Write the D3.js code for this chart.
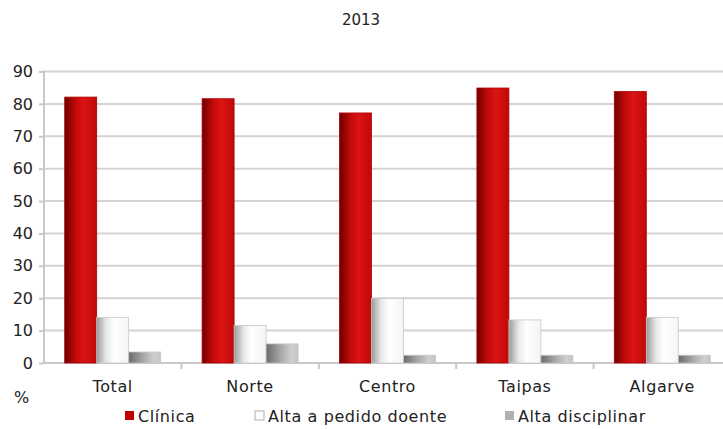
<!DOCTYPE html>
<html><head><meta charset="utf-8">
<script src="https://cdn.jsdelivr.net/npm/d3@7"></script>
<style>body{margin:0;background:#fff}svg{display:block}text{font-family:"DejaVu Sans",sans-serif;fill:#222}</style>
</head><body><svg id="c" width="723" height="429"></svg>
<script>
const categories = ["Total","Norte","Centro","Taipas","Algarve"];
const seriesNames = ["Clínica","Alta a pedido doente","Alta disciplinar"];
const clinica = [82.1, 81.6, 77.2, 84.9, 83.8];
const altaPedido = [14.1, 11.6, 19.9, 13.3, 14.1];
const altaDisciplinar = [3.4, 5.9, 2.4, 2.4, 2.4];
const yTicks = [0,10,20,30,40,50,60,70,80,90];
const title = "2013";
const yLabel = "%";

const series = [clinica, altaPedido, altaDisciplinar];
const svg = d3.select("#c");
const defs = svg.append("defs");
const grads = [
  ["g0", [["0%","#6e0000"],["35%","#c40a0a"],["60%","#dc1414"],["100%","#c00808"]]],
  ["g1", [["0%","#9a9a9a"],["30%","#e8e8e8"],["55%","#ffffff"],["100%","#f4f4f4"]]],
  ["g2", [["0%","#6a6a6a"],["45%","#a8a8a8"],["80%","#cfcfcf"],["100%","#c4c4c4"]]]
];
grads.forEach(([id, stops]) => {
  const g = defs.append("linearGradient").attr("id", id).attr("x1","0").attr("x2","1").attr("y1","0").attr("y2","0");
  stops.forEach(s => g.append("stop").attr("offset", s[0]).attr("stop-color", s[1]));
});
const legendColors = ["#c00000","#ffffff","#b0b0b0"];

const xOuter = d3.scaleBand().domain(categories).range([44, 731]).padding(0);
const x1 = d3.scaleBand().domain(d3.range(3)).range([0, 96]);
const y = d3.scaleLinear().domain([0, 90]).range([363, 71.5]);
const FS = 16, LS = "0.6px";

// gridlines
svg.append("g").selectAll("line").data(yTicks.filter(t=>t>0)).join("line")
  .attr("x1", 44).attr("x2", 723).attr("y1", d=>y(d)).attr("y2", d=>y(d))
  .attr("stroke", "#d3d3d3").attr("stroke-width", 2);

// y axis
const yAxis = svg.append("g").attr("transform","translate(44,0)")
  .call(d3.axisLeft(y).tickValues(yTicks).tickSize(5).tickPadding(6));
yAxis.select(".domain").attr("stroke","#c8c8c8").attr("stroke-width",2).attr("d","M0,"+(y(90)-1)+"V"+y(0));
yAxis.selectAll(".tick line").attr("stroke","#c8c8c8").attr("stroke-width",2);
yAxis.selectAll(".tick text").attr("font-size", FS).attr("fill","#222").attr("font-family","DejaVu Sans, sans-serif");

// x axis
const xAxis = svg.append("g").attr("transform","translate(0,"+y(0)+")");
xAxis.append("line").attr("x1",44).attr("x2",723).attr("stroke","#c8c8c8").attr("stroke-width",2);
xAxis.selectAll("line.tk").data(categories).join("line").attr("class","tk")
  .attr("x1", d=>xOuter(d)+xOuter.bandwidth()).attr("x2", d=>xOuter(d)+xOuter.bandwidth())
  .attr("y1",0).attr("y2",6).attr("stroke","#c8c8c8").attr("stroke-width",2);
xAxis.selectAll("text").data(categories).join("text")
  .attr("x", d=>xOuter(d)+xOuter.bandwidth()/2).attr("y", 29)
  .attr("text-anchor","middle").attr("font-size",FS).attr("letter-spacing",LS).text(d=>d);

// bars
const groupW = 96;
const g = svg.append("g");
categories.forEach((c, i) => {
  const gx = xOuter(c) + (xOuter.bandwidth() - groupW)/2;
  series.forEach((s, j) => {
    g.append("rect")
      .attr("x", gx + x1(j)).attr("width", x1.bandwidth())
      .attr("y", y(s[i])).attr("height", y(0) - y(s[i]))
      .attr("fill", "url(#g"+j+")")
      .attr("stroke", j===0 ? "#b00000" : "#c8c8c8").attr("stroke-width", 0.8);
  });
});

// title
svg.append("text").attr("x", 361).attr("y", 25).attr("text-anchor","middle").attr("font-size",15).text(title);
svg.append("text").attr("x", 14).attr("y", 403).attr("font-size",FS).text(yLabel);

// legend
const legendX = [125, 255, 505];
seriesNames.forEach((n, j) => {
  svg.append("rect").attr("x", legendX[j]).attr("y", 411).attr("width", 9).attr("height", 9)
    .attr("fill", legendColors[j]).attr("stroke", j===1 ? "#999" : "none").attr("stroke-width", 0.8);
  svg.append("text").attr("x", legendX[j]+13).attr("y", 422).attr("font-size", FS).attr("letter-spacing",LS).text(n);
});
</script></body></html>
